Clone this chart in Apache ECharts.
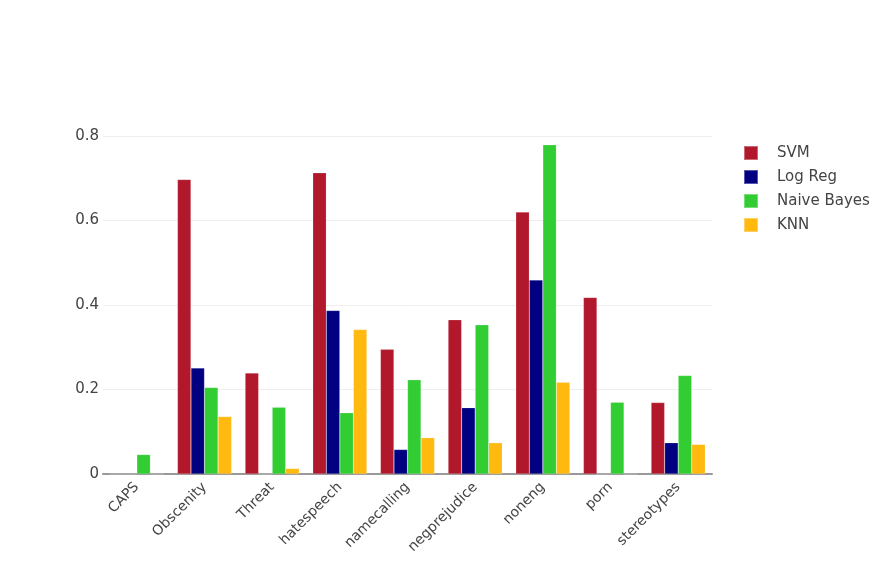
<!DOCTYPE html>
<html>
<head>
<meta charset="utf-8">
<script src="https://cdn.jsdelivr.net/npm/echarts@6/dist/echarts.min.js"></script>
<style>html,body{margin:0;padding:0;background:#fff}#c{width:893px;height:576px}</style>
</head>
<body>
<div id="c"></div>
<script>
const categories = ['CAPS','Obscenity','Threat','hatespeech','namecalling','negprejudice','noneng','porn','stereotypes'];
const svm = [0, 0.697, 0.239, 0.713, 0.295, 0.365, 0.620, 0.418, 0.169];
const logReg = [0, 0.251, 0, 0.387, 0.058, 0.157, 0.459, 0, 0.074];
const naiveBayes = [0.046, 0.205, 0.158, 0.145, 0.223, 0.353, 0.779, 0.170, 0.233];
const knn = [0, 0.136, 0.013, 0.342, 0.086, 0.074, 0.217, 0, 0.070];
const yTicks = [0, 0.2, 0.4, 0.6, 0.8];

const font = 'DejaVu Sans, Verdana, sans-serif';
function s(name, data, color) {
  return {
    name, type: 'bar', data, barGap: '0%', barCategoryGap: '20%',
    itemStyle: { color, borderColor: 'rgba(255,255,255,0.35)', borderWidth: 0.5 }
  };
}
const chart = echarts.init(document.getElementById('c'));
chart.setOption({
  animation: false,
  textStyle: { fontFamily: font },
  legend: {
    orient: 'vertical', left: 738, top: 139, itemWidth: 14, itemHeight: 14, itemGap: 6,
    textStyle: { fontFamily: font, fontSize: 15, color: '#444', lineHeight: 18, padding: [0, 0, 0, 14] },
    icon: 'rect'
  },
  grid: { left: 103, right: 181, top: 136, bottom: 102 },
  xAxis: {
    type: 'category', data: categories,
    axisLine: { lineStyle: { color: '#999', width: 2 } },
    axisTick: { show: false },
    axisLabel: { rotate: 45, fontFamily: font, fontSize: 14, color: '#444', margin: 11, interval: 0 }
  },
  yAxis: {
    type: 'value', min: 0, max: 0.8, interval: 0.2,
    axisLine: { show: false }, axisTick: { show: false },
    splitLine: { lineStyle: { color: '#eee', width: 1 } },
    axisLabel: { fontFamily: font, fontSize: 15, color: '#444', margin: 4,
      formatter: v => { const t = yTicks.find(x => Math.abs(x - v) < 1e-9); return t === 0 ? '0' : String(t); } }
  },
  series: [
    s('SVM', svm, '#B2182B'),
    s('Log Reg', logReg, '#000080'),
    s('Naive Bayes', naiveBayes, '#32CD32'),
    s('KNN', knn, '#FFB90F')
  ]
});
</script>
</body>
</html>
